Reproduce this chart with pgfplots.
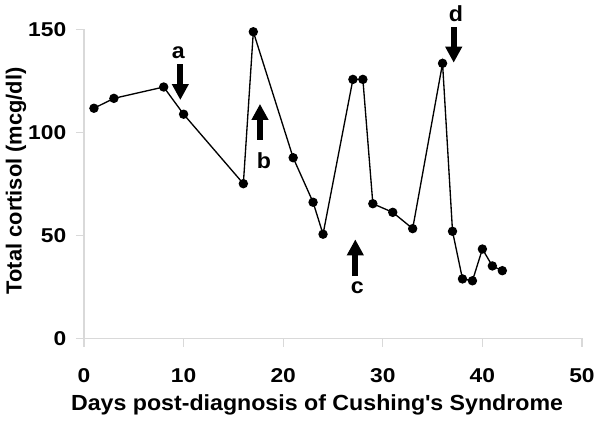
\documentclass[border=0pt]{standalone}
\usepackage{fontspec}
\setmainfont[FakeStretch=1.06]{Liberation Sans}
\newfontfamily\plainsans{Liberation Sans}
\newfontfamily\tickfont[FakeStretch=1.14]{Liberation Sans}
\usepackage{pgfplots}
\pgfplotsset{compat=1.18}
\usetikzlibrary{arrows.meta}

\definecolor{axisgray}{RGB}{217,217,217}

\begin{document}
\begin{tikzpicture}
% picture frame: 600 x 421 px at 0.75pt per px
\path[use as bounding box] (-63pt,-61.875pt) rectangle (387pt,253.875pt);
\begin{axis}[
    at={(0,0)}, anchor=south west,
    scale only axis,
    width=373.5pt, height=231.9pt,
    xmin=0, xmax=50, ymin=0, ymax=150,
    xtick={0,10,...,50}, ytick={0,50,100,150},
    axis lines=left,
    axis line style={axisgray, line width=0.8pt, -},
    tick style={axisgray, line width=0.8pt},
    tick align=outside,
    major tick length=6pt,
    /pgf/number format/assume math mode=true,
    ticklabel style={font=\tickfont\fontsize{15}{18}\selectfont\bfseries},
    xticklabel style={yshift=-13pt},
    yticklabel style={xshift=-3.75pt},
    xlabel={Days post-diagnosis of Cushing\textquotesingle s Syndrome},
    ylabel={Total cortisol (mcg/dl)},
    label style={font=\fontsize{16.4}{19}\selectfont\bfseries},
    xlabel style={at={(axis description cs:0.468,-0.2335)}, anchor=base},
    ylabel style={at={(axis description cs:-0.1365,0.51)}, anchor=center,
        font=\plainsans\fontsize{16.4}{19}\selectfont\bfseries},
    clip=false,
]
\addplot[black, line width=1pt, mark=*, mark size=3pt] coordinates {
    (1,111.7) (3,116.5) (8,122.0) (10,108.8) (16,75.1) (17,148.8)
    (21,87.7) (23,66.1) (24,50.6) (27,125.7) (28,125.7) (29,65.4)
    (31,61.2) (33,53.3) (36,133.5) (37,52.0) (38,28.9) (39,28.0)
    (40,43.4) (41,35.2) (42,32.9)
};

% event arrows and labels
\tikzset{evt/.style={line width=4.5pt, -{Triangle[width=12pt,length=12pt]}}}
\tikzset{lbl/.style={anchor=base, font=\fontsize{16.4}{19}\selectfont\bfseries}}
\draw[evt] (axis cs:9.67,133.0) -- (axis cs:9.67,115.7);
\node[lbl] at (axis cs:9.47,135.9) {a};
\draw[evt] (axis cs:17.67,96.3) -- (axis cs:17.67,113.8);
\node[lbl] at (axis cs:18.07,82.7) {b};
\draw[evt] (axis cs:27.24,30.3) -- (axis cs:27.24,48.1);
\node[lbl] at (axis cs:27.44,21.9) {c};
\draw[evt] (axis cs:37.12,151.0) -- (axis cs:37.12,133.8);
\node[lbl] at (axis cs:37.35,153.7) {d};
\end{axis}
\end{tikzpicture}
\end{document}
